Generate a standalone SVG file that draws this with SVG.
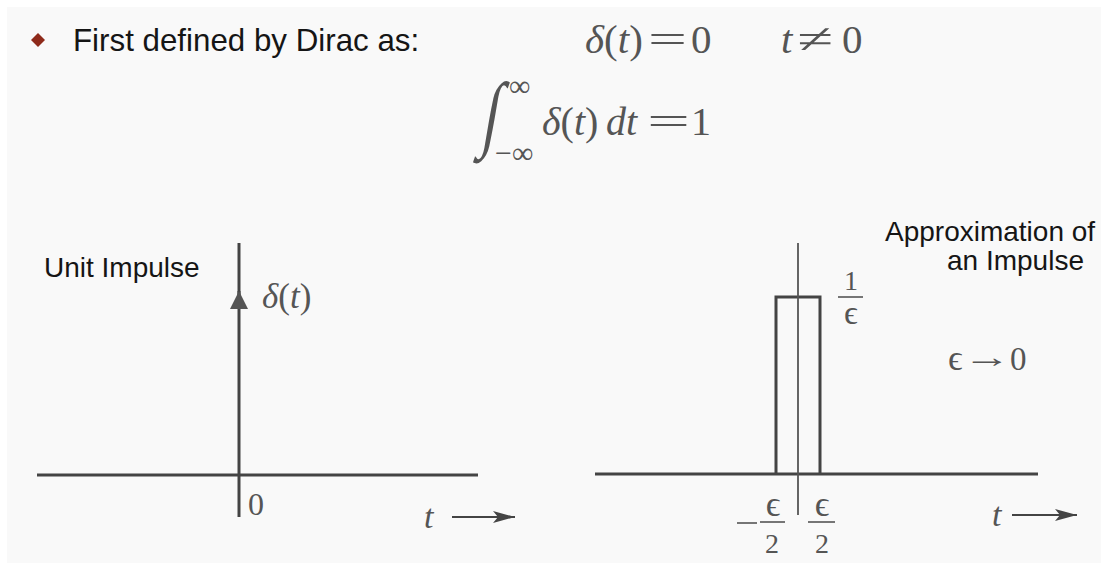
<svg xmlns="http://www.w3.org/2000/svg" width="1101" height="563" viewBox="0 0 1101 563">
<style>
.sans{font-family:"Liberation Sans",Arial,sans-serif;fill:#151515}
.m{font-family:"Liberation Serif","DejaVu Serif",serif;fill:#555}
.i{font-style:italic}
.ax{stroke:#444;stroke-width:3;fill:none}
.thin{stroke:#555;stroke-width:1.8;fill:none}
.bar{stroke:#555;stroke-width:1.6}
</style>
<defs>
<marker id="tarrow" markerUnits="userSpaceOnUse" markerWidth="24" markerHeight="14" refX="22" refY="7" orient="auto">
<path d="M0,1 L22,7 L0,13 L5,7 z" fill="#444"/>
</marker>
<marker id="imp" markerUnits="userSpaceOnUse" markerWidth="18" markerHeight="20" refX="18" refY="9" orient="auto">
<path d="M0,0 L18,9 L0,18 z" fill="#555"/>
</marker>
</defs>
<rect width="1101" height="563" fill="#ffffff"/>
<rect x="7" y="7" width="1094" height="556" fill="#f9f9f9"/>

<g id="title">
<path d="M38,33 L45,40 L38,47 L31,40 z" fill="#8e2a1a"/>
<text class="sans" x="73" y="51" font-size="31.3">First defined by Dirac as:</text>
</g>

<g id="eq-zero" class="m" font-size="41">
<text x="585" y="53"><tspan class="i">δ</tspan>(<tspan class="i">t</tspan>)</text>
<text x="648" y="53" textLength="39" lengthAdjust="spacingAndGlyphs">=</text>
<text x="691" y="53">0</text>
<text x="781" y="53" class="i">t</text>
<text x="797" y="53" textLength="36" lengthAdjust="spacingAndGlyphs">≠</text>
<text x="842" y="53">0</text>
</g>

<g id="eq-integral" class="m">
<text x="0" y="0" font-size="60" transform="translate(480 141) skewX(-10) scale(1 1.4)">∫</text>
<text x="509" y="96" font-size="30">∞</text>
<text x="495" y="163" font-size="30">−∞</text>
<g font-size="40">
<text x="542" y="135"><tspan class="i">δ</tspan>(<tspan class="i">t</tspan>)</text>
<text x="606" y="135" class="i">dt</text>
<text x="647" y="135" textLength="43" lengthAdjust="spacingAndGlyphs">=</text>
<text x="691" y="135">1</text>
</g>
</g>

<g id="unit-impulse">
<text class="sans" x="44" y="277" font-size="28">Unit Impulse</text>
<line class="ax" x1="37" y1="475" x2="478" y2="475"/>
<line class="ax" x1="239" y1="243" x2="239" y2="300"/>
<text class="m" x="262" y="308" font-size="35"><tspan class="i">δ</tspan>(<tspan class="i">t</tspan>)</text>
<text class="m" x="248" y="515" font-size="32">0</text>
<text class="m i" x="424" y="528" font-size="34">t</text>
</g>

<g id="approximation">
<text class="sans" x="885" y="241" font-size="28">Approximation of</text>
<text class="sans" x="947" y="270" font-size="28">an Impulse</text>
<line class="ax" x1="595" y1="474" x2="1038" y2="474" stroke-width="3.5"/>
<path class="ax" d="M776,474 V297 H820 V474" stroke-width="3.5"/>
<line class="thin" x1="798" y1="243" x2="798" y2="515"/>
<text class="m" x="851" y="290" font-size="28" text-anchor="middle">1</text>
<line class="bar" x1="838" y1="297" x2="863" y2="297"/>
<text class="m" x="851" y="324" font-size="34" text-anchor="middle">ϵ</text>
<text class="m" x="948" y="370" font-size="36">ϵ</text>
<text class="m" x="0" y="0" font-size="30" transform="translate(963 367) scale(1.6 1)">→</text>
<text class="m" x="1010" y="370" font-size="33">0</text>
<line class="bar" x1="737" y1="523" x2="757" y2="523"/>
<text class="m" x="773" y="516" font-size="36" text-anchor="middle">ϵ</text>
<line class="bar" x1="760" y1="522" x2="785" y2="522"/>
<text class="m" x="772" y="553" font-size="28" text-anchor="middle">2</text>
<text class="m" x="822" y="516" font-size="36" text-anchor="middle">ϵ</text>
<line class="bar" x1="808" y1="522" x2="835" y2="522"/>
<text class="m" x="822" y="553" font-size="28" text-anchor="middle">2</text>
<text class="m i" x="992" y="526" font-size="34">t</text>
</g>

<g id="connectors">
<line class="ax" x1="239" y1="517" x2="239" y2="291" marker-end="url(#imp)" stroke="#555"/>
<line x1="452" y1="517" x2="515" y2="517" stroke="#444" stroke-width="2.2" marker-end="url(#tarrow)"/>
<line x1="1012" y1="515" x2="1077" y2="515" stroke="#444" stroke-width="2.2" marker-end="url(#tarrow)"/>
</g>
</svg>
